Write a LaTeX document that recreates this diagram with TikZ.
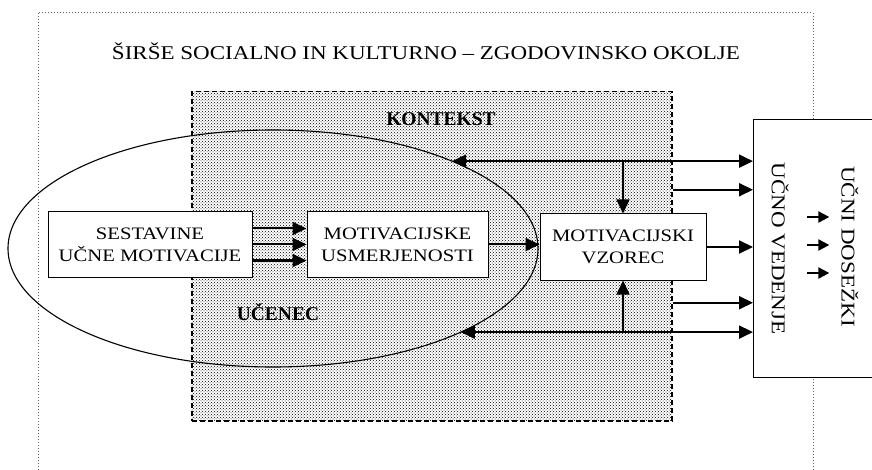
\documentclass[tikz,border=0pt]{standalone}
\usepackage{fontspec}
\setmainfont{Liberation Serif}[FakeStretch=1.18]
\newfontfamily\tagfont{Liberation Serif}
\usetikzlibrary{positioning,shapes.geometric,arrows.meta,patterns}

\begin{document}
\begin{tikzpicture}[
        x=1pt, y=-1pt,
        box/.style={
            rectangle,
            draw=black,
            fill=white,
            line width=1pt,
            align=center,
            inner sep=0pt,
            font=\fontsize{17.5}{22}\selectfont
        },
        areatag/.style={
            font=\tagfont\bfseries\fontsize{19.5}{22}\selectfont
        },
        sidetext/.style={
            rotate=-90,
            inner sep=1pt,
            font=\fontsize{19.5}{22}\selectfont
        },
        arrow/.style={
            -{Triangle[length=14pt,width=13pt]},
            line width=2pt
        },
        twoway/.style={
            {Triangle[length=14pt,width=13pt]}-{Triangle[length=14pt,width=13pt]},
            line width=2pt
        },
        smallarrow/.style={
            -{Triangle[length=11pt,width=11pt]},
            line width=2.2pt
        }
    ]
        \useasboundingbox (0,0) rectangle (872,470);
        \clip (0,0) rectangle (872,470);

        % surroundings
        \draw[black!60, dotted, line width=1pt] (38,13) rectangle (813,490);
        \node[font=\fontsize{19.5}{22}\selectfont] (okolje) at (426,51) {ŠIRŠE SOCIALNO IN KULTURNO – ZGODOVINSKO OKOLJE};

        % context
        \node[draw, dashed, dash pattern=on 5pt off 3pt, line width=1.5pt,
              pattern=crosshatch dots, pattern color=black,
              minimum width=480, minimum height=329, inner sep=0pt, anchor=north west] (ctx) at (191,91) {};
        \node[areatag] (kontekst) at (441,119.5) {KONTEKST};

        % learner
        \node[draw, ellipse, line width=1.1pt, inner sep=0pt, outer sep=0pt,
              minimum width=530, minimum height=237] (ucenec) at (273,248.5) {};
        \node[areatag] (ucenectag) at (278,312) {UČENEC};

        \node[box, minimum width=204, minimum height=65] (sestavine) at (150,244.5) {SESTAVINE\\UČNE MOTIVACIJE};
        \node[box, minimum width=181, minimum height=65] (usmer) at (397.5,244.5) {MOTIVACIJSKE\\USMERJENOSTI};
        \node[box, minimum width=166, minimum height=66] (vzorec) at (623,247) {MOTIVACIJSKI\\VZOREC};

        % outcomes
        \node[box, minimum width=160, minimum height=258, anchor=north west] (vedenje) at (753,119) {};
        \node[sidetext] (vedtxt) at (780,248.5) {UČNO VEDENJE};
        \node[sidetext] (dostxt) at (850,246.5) {UČNI DOSEŽKI};

        \foreach \dy in {16,0,-16}
            \draw[arrow] ([yshift=\dy pt]sestavine.east) -- ([yshift=\dy pt]sestavine.east -| usmer.west);
        \draw[arrow] (usmer.east) -- (usmer.east -| vzorec.west);
        \draw[arrow] (vzorec.east) -- (vzorec.east -| vedenje.west);

        \draw[twoway] (ucenec.26) -- (ucenec.26 -| vedenje.west);
        \draw[arrow, line width=1.5pt] (ucenec.26 -| vzorec.north) -- (vzorec.north);
        \draw[twoway] (ucenec.-24.5) -- (ucenec.-24.5 -| vedenje.west);
        \draw[arrow, line width=1.5pt] (ucenec.-24.5 -| vzorec.south) -- (vzorec.south);

        \draw[arrow] ([yshift=66.5pt]ctx.east) coordinate (ctxhi) -- (ctxhi -| vedenje.west);
        \draw[arrow] ([yshift=-46.5pt]ctx.east) coordinate (ctxlo) -- (ctxlo -| vedenje.west);

        \foreach \dy in {31.5,3.5,-24.5}
            \draw[smallarrow, shorten <=17pt, shorten >=11pt] ([yshift=\dy pt]vedtxt.north) -- ([yshift=\dy pt]vedtxt.north -| dostxt.south);
    \end{tikzpicture}
\end{document}
